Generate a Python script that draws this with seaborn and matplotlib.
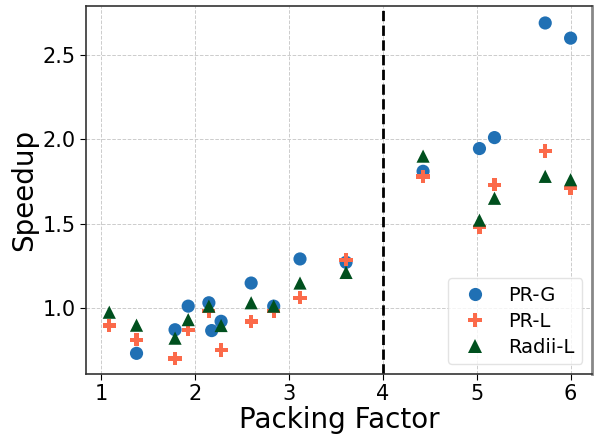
import matplotlib
matplotlib.use("Agg")
import matplotlib.pyplot as plt
import seaborn as sns
import pandas as pd

# packing factors and speedups
pf = [1.09, 1.38, 1.79, 1.93, 2.15, 2.18, 2.28, 2.60, 2.84, 3.12, 3.61,
      4.43, 5.03, 5.19, 5.73, 6.00]
pr_g = [None, 0.73, 0.87, 1.01, 1.03, 0.865, 0.92, 1.147, 1.01, 1.29, 1.27,
        1.81, 1.945, 2.01, 2.69, 2.60]
pr_l = [0.895, 0.81, 0.70, 0.87, 0.98, None, 0.75, 0.92, 0.98, 1.06, 1.285,
        1.78, 1.48, 1.73, 1.93, 1.71]
radii_l = [0.974, 0.897, 0.82, 0.93, 1.01, None, 0.895, 1.03, 1.01, 1.147, 1.21,
           1.90, 1.52, 1.65, 1.78, 1.76]

series = ["PR-G", "PR-L", "Radii-L"]
colors = {"PR-G": "#2070b4", "PR-L": "#fb6a4a", "Radii-L": "#00501e"}
markers = {"PR-G": "o", "PR-L": "P", "Radii-L": "^"}

rows = []
for name, vals in zip(series, [pr_g, pr_l, radii_l]):
    for x, y in zip(pf, vals):
        if y is not None:
            rows.append({"Packing Factor": x, "Speedup": y, "method": name})
df = pd.DataFrame(rows)

sns.set_style("white")
plt.rcParams["text.color"] = "black"
plt.rcParams["axes.labelcolor"] = "black"
plt.rcParams["xtick.color"] = "black"
plt.rcParams["ytick.color"] = "black"
fig, ax = plt.subplots(figsize=(6, 4.37), dpi=100)

sns.scatterplot(data=df, x="Packing Factor", y="Speedup", hue="method", style="method",
                palette=colors, markers=markers, hue_order=series, style_order=series,
                s=90, linewidth=0, ax=ax)

ax.axvline(4, color="black", linestyle="--", linewidth=2)

ax.set_xlim(0.84, 6.23)
ax.set_ylim(0.607, 2.79)
ax.set_xticks([1, 2, 3, 4, 5, 6])
ax.set_yticks([1.0, 1.5, 2.0, 2.5])
ax.grid(True, linestyle="--", color="#cccccc", linewidth=0.7)
ax.tick_params(labelsize=15, length=4, direction="out", bottom=True, left=True)
ax.set_xlabel("Packing Factor", fontsize=20, labelpad=1)
ax.set_ylabel("Speedup", fontsize=20, labelpad=3)
for sp in ax.spines.values():
    sp.set_color("#333333")
    sp.set_linewidth(1.2)
ax.spines["right"].set_color("#888888")
ax.spines["right"].set_linewidth(2)

leg = ax.legend(loc="lower right", fontsize=14, title=None, markerscale=1.0,
                frameon=True, handletextpad=0.7, borderpad=0.4, labelspacing=0.35)
leg.get_frame().set_edgecolor("#dddddd")

plt.subplots_adjust(left=0.143, right=0.987, top=0.986, bottom=0.144)
plt.savefig("out.png", dpi=100)
